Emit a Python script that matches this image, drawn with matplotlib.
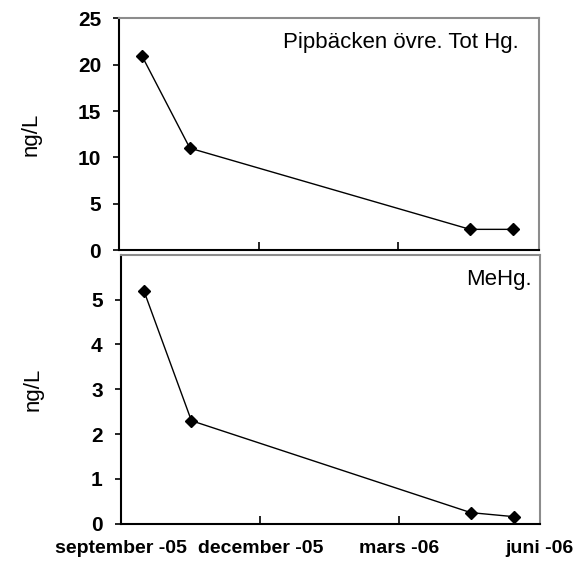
import pandas as pd
import matplotlib
matplotlib.use('Agg')
import matplotlib.pyplot as plt

# sampling dates and concentrations (ng/L)
dates = ['2005-09-16', '2005-10-17', '2006-04-17', '2006-05-15']
totHg = [20.9, 11.0, 2.25, 2.25]
meHg = [5.2, 2.3, 0.25, 0.16]
tickDates = ['2005-09-01', '2005-12-01', '2006-03-01', '2006-06-01']
tickLabels = ['september -05', 'december -05', 'mars -06', 'juni -06']

plt.rcParams['font.family'] = ['Liberation Sans', 'DejaVu Sans']

x = pd.to_datetime(dates)
xt = pd.to_datetime(tickDates)

fig = plt.figure(figsize=(5.78, 5.70), dpi=100)
ax1 = fig.add_axes([0.206, 0.561, 0.727, 0.407])
ax2 = fig.add_axes([0.209, 0.081, 0.725, 0.472])


def styleAxis(ax, ymax, yticks, showX):
  ax.set_xlim(xt[0], xt[-1])
  ax.set_ylim(0, ymax)
  ax.set_yticks(yticks)
  ax.set_xticks(xt)
  if showX:
    ax.set_xticklabels(tickLabels)
  else:
    ax.set_xticklabels([])
  for s in ['left', 'bottom']:
    ax.spines[s].set_color('black')
    ax.spines[s].set_linewidth(1.5)
  for s in ['top', 'right']:
    ax.spines[s].set_color('#8c8c8c')
    ax.spines[s].set_linewidth(1.5)
  ax.tick_params(axis='x', direction='in', length=6, width=1.2, pad=12)
  ax.tick_params(axis='y', direction='out', length=4, width=1.2, pad=9)
  for lab in ax.get_xticklabels():
    lab.set_fontsize(14)
    lab.set_fontweight('bold')
  for lab in ax.get_yticklabels():
    lab.set_fontsize(15)
    lab.set_fontweight('bold')
  ax.set_ylabel('ng/L', fontsize=16)


ax1.plot(x, totHg, color='black', lw=1, marker='D', ms=6.5, mfc='black', mec='black')
styleAxis(ax1, 25, [0, 5, 10, 15, 20, 25], False)
ax1.yaxis.set_label_coords(-0.185, 0.5)
ax1.text(0.95, 0.895, 'Pipbäcken övre. Tot Hg.', transform=ax1.transAxes,
         ha='right', va='center', fontsize=16)

ax2.plot(x, meHg, color='black', lw=1, marker='D', ms=6.5, mfc='black', mec='black')
styleAxis(ax2, 6, [0, 1, 2, 3, 4, 5], True)
ax2.yaxis.set_label_coords(-0.185, 0.5)
ax2.text(0.98, 0.91, 'MeHg.', transform=ax2.transAxes,
         ha='right', va='center', fontsize=16)

fig.savefig('out.png', dpi=100)
